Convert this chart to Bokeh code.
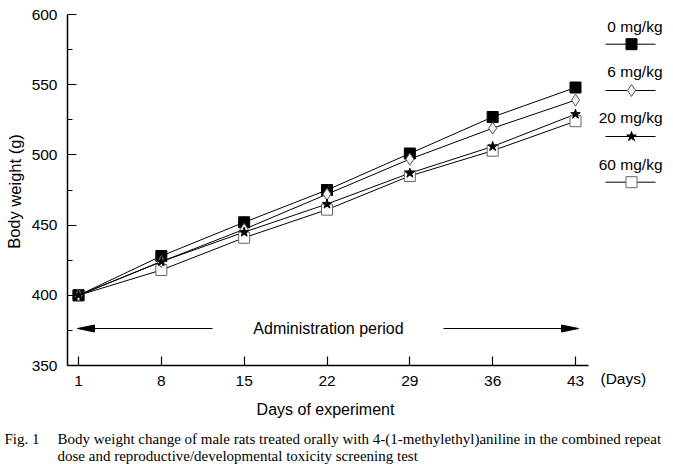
from bokeh.plotting import figure
from bokeh.models import Range1d, FixedTicker, Label
from bokeh.embed import file_html
from bokeh.resources import INLINE

# ---- data ----
days = [1, 8, 15, 22, 29, 36, 43]
bw_0 = [400, 428, 452, 475, 501, 527, 548]
bw_6 = [400, 424, 447, 472, 497, 519, 539]
bw_20 = [400, 424, 445, 465, 487, 506, 529]
bw_60 = [400, 418, 441, 461, 485, 503, 524]
groups = ["0 mg/kg", "6 mg/kg", "20 mg/kg", "60 mg/kg"]
y_ticks = [350, 400, 450, 500, 550, 600]
y_minor = [375, 425, 475, 525, 575]

SANS = "Liberation Sans"
SERIF = "Liberation Serif"

# picture-pixel -> data helpers (layout only)
PXD = 497 / 42.0
PXG = 351 / 250.0
def X(px):
    return 1 + (px - 78) / PXD
def Y(py):
    return 350 + (365 - py) / PXG

W, H = 673, 464
p = figure(width=W, height=H, output_backend="svg", toolbar_location=None,
           x_range=Range1d(X(0), X(W)), y_range=Range1d(Y(H), Y(0)),
           min_border_left=0, min_border_right=0, min_border_top=0, min_border_bottom=0)
p.outline_line_color = None
p.xgrid.grid_line_color = None
p.ygrid.grid_line_color = None
p.background_fill_color = "white"
p.border_fill_color = "white"

for ax in (p.xaxis[0], p.yaxis[0]):
    ax.axis_line_width = 1.5
    ax.axis_line_color = "black"
    ax.major_tick_line_color = "black"
    ax.major_tick_line_width = 1.2
    ax.major_tick_out = 0
    ax.major_tick_in = 9
    ax.major_label_text_font = SANS
    ax.major_label_text_font_size = "15.5px"
    ax.major_label_text_color = "black"
    ax.major_label_standoff = 10

p.xaxis.fixed_location = 350
p.yaxis.fixed_location = X(67)
p.xaxis.bounds = (X(67), X(588))
p.yaxis.bounds = (350, 600)
p.xaxis.ticker = FixedTicker(ticks=days)
p.yaxis.ticker = FixedTicker(ticks=y_ticks, minor_ticks=y_minor)
p.xaxis.minor_tick_line_color = None
p.yaxis.minor_tick_out = 0
p.yaxis.minor_tick_in = 5
p.yaxis.minor_tick_line_color = "black"

series = [bw_0, bw_6, bw_20, bw_60]
styles = [
    dict(marker="square", size=11, fill_color="black", line_color="black"),
    dict(marker="diamond", size=12, fill_color="#f4f4f4", line_color="#555555"),
    dict(marker="star", size=10, fill_color="black", line_color="black"),
    dict(marker="square", size=11, fill_color="white", line_color="#666666"),
]

for vals in series:
    p.line(days, vals, line_color="black", line_width=1)
for i in (3, 0, 1, 2):
    p.scatter(days, series[i], line_width=1, **styles[i])

# legend (manual)
leg_text_y = [26, 70.7, 117, 164]
leg_line_y = [43.7, 90, 136, 181.7]
for g, ty, ly, st in zip(groups, leg_text_y, leg_line_y, styles):
    p.add_layout(Label(x=X(662), y=Y(ty), text=g, text_align="right",
                       text_baseline="middle", text_font=SANS,
                       text_font_size="15.5px", text_color="black"))
    p.line([X(605), X(655)], [Y(ly), Y(ly)], line_color="black", line_width=1)
    p.scatter([X(631)], [Y(ly)], line_width=1, **st)

# administration period arrows
ay = Y(328)
p.line([X(212), X(90)], [ay, ay], line_color="black", line_width=1)
p.line([X(443), X(565)], [ay, ay], line_color="black", line_width=1)
p.patch([X(77), X(94), X(94)], [ay, Y(324.5), Y(331.5)], fill_color="black", line_color="black")
p.patch([X(578), X(561), X(561)], [ay, Y(324.5), Y(331.5)], fill_color="black", line_color="black")
p.add_layout(Label(x=X(328), y=ay, text="Administration period", text_align="center",
                   text_baseline="middle", text_font=SANS, text_font_size="16px",
                   text_color="black"))

# axis titles
p.add_layout(Label(x=X(600), y=Y(378), text="(Days)", text_align="left",
                   text_baseline="middle", text_font=SANS, text_font_size="15.5px",
                   text_color="black"))
p.add_layout(Label(x=X(325), y=Y(409), text="Days of experiment", text_align="center",
                   text_baseline="middle", text_font=SANS, text_font_size="16px",
                   text_color="black"))
p.add_layout(Label(x=X(14), y=Y(191), text="Body weight (g)", text_align="center",
                   text_baseline="middle", angle=1.5707963, text_font=SANS,
                   text_font_size="16.5px", text_color="black"))

# caption
p.add_layout(Label(x=X(4), y=Y(438), text="Fig. 1", text_align="left",
                   text_baseline="middle", text_font=SERIF, text_font_size="15px",
                   text_color="black"))
p.add_layout(Label(x=X(57), y=Y(438),
                   text="Body weight change of male rats treated orally with 4-(1-methylethyl)aniline in the combined repeat",
                   text_align="left", text_baseline="middle", text_font=SERIF,
                   text_font_size="15px", text_color="black"))
p.add_layout(Label(x=X(57), y=Y(455),
                   text="dose and reproductive/developmental toxicity screening test",
                   text_align="left", text_baseline="middle", text_font=SERIF,
                   text_font_size="15px", text_color="black"))

open("out.html", "w").write(file_html(p, INLINE))
